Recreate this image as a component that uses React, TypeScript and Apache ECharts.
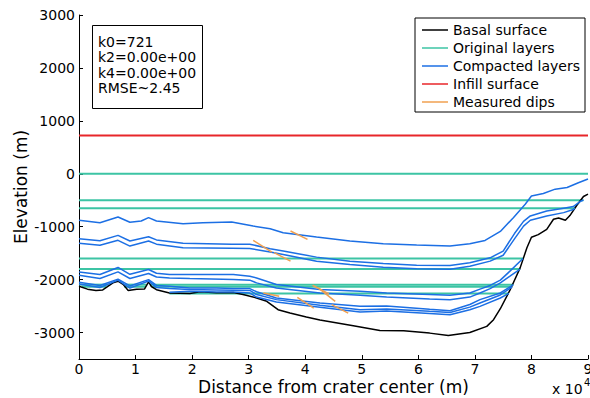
import { useEffect, useRef } from "react";
import * as echarts from "echarts";

const FONT = "DejaVu Sans";

const yTickValues = [-3000, -2000, -1000, 0, 1000, 2000, 3000];
const infillLevel = 721;
const legendNames = ["Basal surface", "Original layers", "Compacted layers", "Infill surface", "Measured dips"];
const boxLines = ["k0=721", "k2=0.00e+00", "k4=0.00e+00", "RMSE~2.45"];

const basalX = [0, 1500, 3000, 4200, 6000, 6900, 7800, 8700, 10200, 11600, 12300, 12800, 13700, 16000, 19600, 21400, 24300, 27300, 29000, 31400, 33200, 35200, 37300, 40200, 42600, 48500, 53200, 57400, 62000, 65300, 69100, 72100, 73300, 74500, 76200, 78000, 79200, 80000, 81200, 82700, 83900, 84800, 86000, 86800, 88000, 89200, 90000];
const basalY = [-2125, -2180, -2207, -2195, -2062, -2030, -2090, -2207, -2180, -2175, -2043, -2130, -2190, -2252, -2264, -2230, -2250, -2245, -2283, -2347, -2410, -2568, -2632, -2708, -2765, -2871, -2960, -2965, -3011, -3058, -2998, -2884, -2757, -2550, -2200, -1778, -1398, -1200, -1150, -1050, -860, -835, -878, -790, -600, -430, -385];

const origLevels = [0, -500, -650, -1600, -1800, -2095, -2135, -2260];
const origStarts = [[0], [0], [0], [0], [0], [0, 8200, 12700], [500, 8000, 13000], [16000]];
const origEnds = [[90000], [89200], [87700], [78500], [78000], [5200, 11900, 76800], [4800, 11800, 76600], [76000]];

const layer1X = [0, 3700, 6900, 9000, 11000, 12300, 13700, 18400, 21900, 27000, 30800, 33800, 36100, 42000, 47900, 53800, 59700, 65600, 69100, 71800, 74500, 76800, 78900, 80000, 82100, 84200, 86300, 88300, 90000];
const layer1Y = [-879, -924, -816, -917, -892, -829, -892, -943, -925, -911, -987, -1040, -1113, -1195, -1271, -1322, -1347, -1366, -1322, -1260, -1090, -829, -576, -420, -373, -291, -259, -170, -100];

const layer2X = [0, 3700, 6900, 9000, 12300, 13700, 18400, 27000, 30200, 33800, 36100, 42000, 47900, 53800, 59700, 65600, 69100, 72700, 75000, 77000, 78600, 79800, 82700, 85700, 87400, 88600, 89200];
const layer2Y = [-1227, -1265, -1164, -1271, -1189, -1250, -1315, -1334, -1330, -1417, -1461, -1575, -1651, -1695, -1727, -1735, -1683, -1588, -1461, -1130, -900, -797, -702, -650, -620, -525, -495];

const layer3X = [0, 3700, 6900, 9000, 12300, 13700, 18400, 27000, 30200, 33800, 36100, 42000, 47900, 53800, 59700, 65600, 69100, 72700, 75000, 77000, 78600, 79800, 82700, 85700, 87400, 87700];
const layer3Y = [-1315, -1350, -1258, -1366, -1271, -1330, -1398, -1405, -1410, -1480, -1524, -1651, -1714, -1765, -1797, -1805, -1746, -1651, -1540, -1230, -990, -879, -797, -734, -675, -650];

const layer4X = [0, 3700, 6900, 9000, 12300, 13700, 16000, 19600, 27300, 30200, 31400, 34900, 42600, 49700, 54400, 62000, 65600, 69100, 70900, 72700, 74500, 76200, 78500];
const layer4Y = [-1854, -1903, -1770, -1900, -1808, -1880, -1903, -1903, -1903, -1935, -1968, -2093, -2188, -2220, -2252, -2280, -2295, -2252, -2180, -2110, -2010, -1840, -1600];

const layer5X = [0, 3700, 6900, 9000, 12300, 13700, 16000, 19600, 27300, 30200, 31400, 34900, 42600, 49700, 54400, 62000, 65600, 69100, 70900, 72700, 74500, 76200, 78000];
const layer5Y = [-1917, -1979, -1854, -1979, -1884, -1950, -1968, -1979, -1998, -2010, -2062, -2157, -2252, -2296, -2328, -2365, -2380, -2330, -2252, -2170, -2062, -1935, -1800];

const layer6X = [0, 3700, 6900, 9000, 12300, 13700, 16000, 19600, 24300, 27300, 30200, 31400, 34900, 42600, 49700, 54400, 62000, 65600, 69100, 70900, 74500, 76800];
const layer6Y = [-2050, -2110, -1990, -2120, -2000, -2110, -2125, -2157, -2160, -2169, -2170, -2230, -2347, -2442, -2505, -2500, -2560, -2587, -2470, -2378, -2252, -2095];

const layer7X = [0, 3700, 6900, 9000, 12300, 13700, 16000, 19600, 24300, 27300, 30200, 31400, 34900, 42600, 49700, 54400, 62000, 65600, 69100, 70900, 74500, 76600];
const layer7Y = [-2085, -2150, -2010, -2160, -2025, -2150, -2169, -2188, -2195, -2200, -2205, -2283, -2378, -2486, -2568, -2555, -2600, -2620, -2520, -2442, -2290, -2135];

const layer8X = [16000, 19600, 24300, 27300, 30200, 31400, 34900, 42600, 49700, 54400, 62000, 65600, 69100, 70900, 74500, 76000];
const layer8Y = [-2240, -2222, -2235, -2235, -2255, -2330, -2423, -2520, -2613, -2595, -2640, -2662, -2570, -2505, -2347, -2260];

const dipX0 = [30800, 34500, 37400, 32600, 38600, 41300, 42300, 44700];
const dipY0 = [-1258, -1490, -1082, -2252, -2334, -2106, -2157, -2473];
const dipX1 = [34100, 37400, 40400, 35400, 41500, 44200, 45300, 47600];
const dipY1 = [-1480, -1651, -1239, -2315, -2537, -2271, -2410, -2632];

const layersX = [layer1X, layer2X, layer3X, layer4X, layer5X, layer6X, layer7X, layer8X];
const layersY = [layer1Y, layer2Y, layer3Y, layer4Y, layer5Y, layer6Y, layer7Y, layer8Y];

const zip = (xs: number[], ys: number[]) => xs.map((x, i) => [x, ys[i]]);

export default function App() {
  const ref = useRef<HTMLDivElement>(null);
  useEffect(() => {
    const chart = echarts.init(ref.current!, null, { renderer: "svg" });
    const series: any[] = [];
    const mk = (name: string, data: number[][], color: string, width: number, z: number) => ({
      name, type: "line", data, symbol: "none", showSymbol: false,
      lineStyle: { color, width }, itemStyle: { color }, z,
    });
    series.push(mk(legendNames[0], zip(basalX, basalY), "#000000", 1.5, 3));
    origLevels.forEach((lv, i) => {
      origStarts[i].forEach((s, j) => {
        series.push(mk(legendNames[1], [[s, lv], [origEnds[i][j], lv]], "#3cc4a4", 2, 2));
      });
    });
    layersX.forEach((xs, i) => {
      series.push(mk(legendNames[2], zip(xs, layersY[i]), "#1c6fe4", 1.5, 4));
    });
    series.push(mk(legendNames[3], [[0, infillLevel], [90000, infillLevel]], "#e8262a", 2, 4));
    dipX0.forEach((x0, i) => {
      series.push(mk(legendNames[4], [[x0, dipY0[i]], [dipX1[i], dipY1[i]]], "#f0a050", 1.5, 5));
    });

    chart.setOption({
      animation: false,
      backgroundColor: "#ffffff",
      grid: { left: 79, right: 2, top: 15, bottom: 39, outerBoundsMode: "none", containLabel: false },
      xAxis: {
        type: "value", min: 0, max: 90000, interval: 10000,
        name: "Distance from crater center (m)", nameLocation: "middle", nameGap: 19, nameMoveOverlap: false,
        nameTextStyle: { fontSize: 17, fontFamily: FONT, color: "#000" },
        axisLine: { onZero: false, lineStyle: { color: "#000", width: 1 } },
        axisTick: { inside: true, length: 4, lineStyle: { color: "#000" } },
        axisLabel: { margin: 3, fontSize: 14, fontFamily: FONT, color: "#000", formatter: (v: number) => String(v / 10000) },
        splitLine: { show: false },
      },
      yAxis: {
        type: "value", min: -3500, max: 3000,
        name: "Elevation (m)", nameLocation: "middle", nameGap: 50, nameRotate: 90, nameMoveOverlap: false,
        nameTextStyle: { fontSize: 17, fontFamily: FONT, color: "#000" },
        axisLine: { onZero: false, lineStyle: { color: "#000", width: 1 } },
        axisTick: { inside: true, length: 4, lineStyle: { color: "#000" }, customValues: yTickValues },
        axisLabel: { margin: 4, fontSize: 14, fontFamily: FONT, color: "#000", customValues: yTickValues, formatter: (v: number) => String(v) },
        splitLine: { show: false },
      },
      legend: {
        data: legendNames, orient: "vertical", right: 5, top: 18,
        icon: "rect", itemWidth: 26, itemHeight: 1.5, itemGap: 4, padding: [5, 5, 3, 7],
        borderColor: "#000", borderWidth: 1, backgroundColor: "#fff", borderRadius: 0,
        textStyle: { fontSize: 14, fontFamily: FONT, color: "#000", lineHeight: 14 },
        selectedMode: false,
      },
      graphic: [
        { type: "rect", shape: { x: 92.5, y: 25.5, width: 110, height: 83 }, style: { fill: "#fff", stroke: "#000", lineWidth: 1 }, z: 100 },
        { type: "text", x: 98, y: 34, style: { text: boxLines.join("\n"), font: `14px '${FONT}'`, fill: "#000", lineHeight: 15.5 }, z: 101 },
        { type: "text", x: 552, y: 389, style: { text: "x 10", font: `14px '${FONT}'`, fill: "#000", verticalAlign: "middle" } },
        { type: "text", x: 584, y: 382, style: { text: "4", font: `10px '${FONT}'`, fill: "#000", verticalAlign: "middle" } },
      ],
      series,
    });
    return () => chart.dispose();
  }, []);
  return <div ref={ref} style={{ position: "fixed", left: 0, top: 0, width: 590, height: 398 }} />;
}
